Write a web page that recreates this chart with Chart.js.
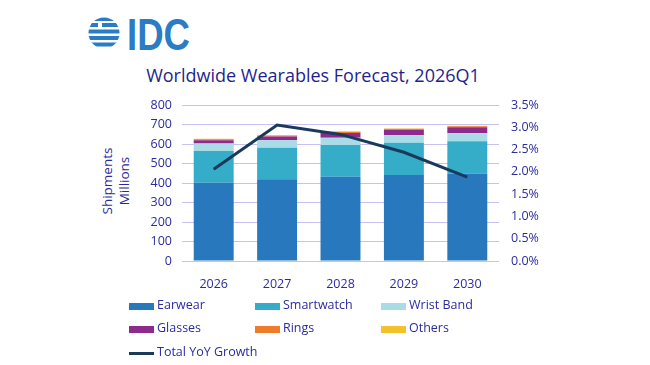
<!DOCTYPE html>
<html><head><meta charset="utf-8">
<script src="https://cdn.jsdelivr.net/npm/chart.js@4"></script>
<style>
html,body{margin:0;padding:0;background:#fff;width:650px;height:365px;overflow:hidden;font-family:"Open Sans","Noto Sans",sans-serif;}
#wrap{position:absolute;left:0;top:0;width:650px;height:365px;}
#title{position:absolute;left:0;width:626px;top:63px;text-align:center;font-size:18px;color:#1f1f8f;}
#ytitle{position:absolute;left:116px;top:181px;transform:translate(-50%,-50%) rotate(-90deg);text-align:center;font-size:13.5px;line-height:17px;color:#2b2ba0;white-space:nowrap;}
#legend{position:absolute;left:0;top:0;}
.li{position:absolute;font-size:12.5px;color:#2b2ba0;white-space:nowrap;}
.sw{position:absolute;width:25px;height:7px;}
#logo{position:absolute;left:85px;top:12px;}
</style></head><body>
<div id="wrap">
<svg id="logo" width="120" height="45" viewBox="0 0 120 45">
 <defs><clipPath id="cc"><circle cx="19" cy="21" r="15.5"/></clipPath></defs>
 <g clip-path="url(#cc)" fill="#2a7cc6">
  <rect x="0" y="5" width="40" height="4"/>
  <rect x="0" y="11" width="30" height="4"/>
  <rect x="6" y="11" width="40" height="4"/>
  <rect x="0" y="17.5" width="40" height="4"/>
  <rect x="0" y="24" width="40" height="4"/>
  <rect x="0" y="30.5" width="40" height="4"/>
 </g>
 <rect x="13" y="11" width="4" height="4" fill="#fff"/>
 <text x="42" y="38" font-family="Liberation Sans, Arial, sans-serif" font-weight="bold" font-size="44" fill="#2a7cc6" textLength="63" lengthAdjust="spacingAndGlyphs">IDC</text>
</svg>
<div id="title">Worldwide Wearables Forecast, 2026Q1</div>
<div id="ytitle">Shipments<br>Millions</div>
<canvas id="c" width="650" height="365" style="position:absolute;left:0;top:0;width:650px;height:365px"></canvas>
<div id="legend"></div>
</div>
<script>
const years = ["2026","2027","2028","2029","2030"];
const earwear    = [401, 419, 432, 441, 448];
const smartwatch = [163, 162, 163, 166, 166];
const wristBand  = [38, 38, 37, 39, 41];
const glasses    = [17, 20, 24, 27, 31];
const rings      = [5, 4, 6, 5, 5];
const others     = [3, 2, 3, 2, 3];
const yoyGrowth  = [2.06, 3.05, 2.84, 2.44, 1.88];
const leftTicks  = [0,100,200,300,400,500,600,700,800];
const rightTicks = [0,0.5,1.0,1.5,2.0,2.5,3.0,3.5];

const colors = {
  Earwear:"#2878be", Smartwatch:"#36adc8", "Wrist Band":"#a9dce7",
  Glasses:"#8c2b8c", Rings:"#f07b2b", Others:"#f4c12b", line:"#1a3a5c"
};
const barSets = [
  ["Earwear", earwear], ["Smartwatch", smartwatch], ["Wrist Band", wristBand],
  ["Glasses", glasses], ["Rings", rings], ["Others", others]
];
const datasets = barSets.map(([n,d]) => ({
  type:"bar", label:n, data:d, backgroundColor:colors[n], yAxisID:"y",
  stack:"s", categoryPercentage:1, barPercentage:0.63, order:2, borderWidth:0
}));
datasets.push({
  type:"line", label:"Total YoY Growth", data:yoyGrowth, yAxisID:"y1",
  borderColor:colors.line, borderWidth:3, pointRadius:0, tension:0, order:1, fill:false
});

const tickColor = "#2b2ba0";
const tickFont = {family:"'Open Sans','Noto Sans',sans-serif", size:12.5};
new Chart(document.getElementById("c"), {
  data:{labels:years, datasets},
  options:{
    responsive:false, animation:false,
    layout:{padding:{left:142, right:101, top:105, bottom:74}},
    plugins:{legend:{display:false}, tooltip:{enabled:false}},
    scales:{
      x:{stacked:true, grid:{display:false}, border:{display:false},
         ticks:{color:tickColor, font:tickFont, padding:8},
         afterFit(s){ s.height = 30; }},
      y:{stacked:true, min:0, max:800, position:"left",
         afterBuildTicks(s){ s.ticks = leftTicks.map(v=>({value:v})); },
         ticks:{color:tickColor, font:tickFont, padding:10},
         grid:{color:"#c9bff0", lineWidth:1, drawTicks:false}, border:{display:false},
         afterFit(s){ s.width = 40; }},
      y1:{min:0, max:3.5, position:"right",
         afterBuildTicks(s){ s.ticks = rightTicks.map(v=>({value:v})); },
         ticks:{color:tickColor, font:tickFont, padding:12, callback:v=>v.toFixed(1)+"%"},
         grid:{display:false, drawTicks:false}, border:{display:false},
         afterFit(s){ s.width = 50; }}
    }
  }
});

// HTML legend in 3 columns
const lg = document.getElementById("legend");
const cols = [129, 255, 381];
const rows = [306, 329, 353];
const items = barSets.map(([n])=>n).concat(["Total YoY Growth"]);
items.forEach((n,i)=>{
  const cx = cols[i%3], cy = rows[Math.floor(i/3)];
  const sw = document.createElement("div");
  sw.className="sw";
  if(n==="Total YoY Growth"){
    sw.style.height="3px"; sw.style.background=colors.line;
    sw.style.left=cx+"px"; sw.style.top=(cy-1.5)+"px";
  } else {
    sw.style.background=colors[n]; sw.style.left=cx+"px"; sw.style.top=(cy-3.5)+"px";
  }
  lg.appendChild(sw);
  const t = document.createElement("div");
  t.className="li"; t.textContent=n;
  t.style.left=(cx+28)+"px"; t.style.top=(cy-10)+"px";
  lg.appendChild(t);
});
</script>
</body></html>
